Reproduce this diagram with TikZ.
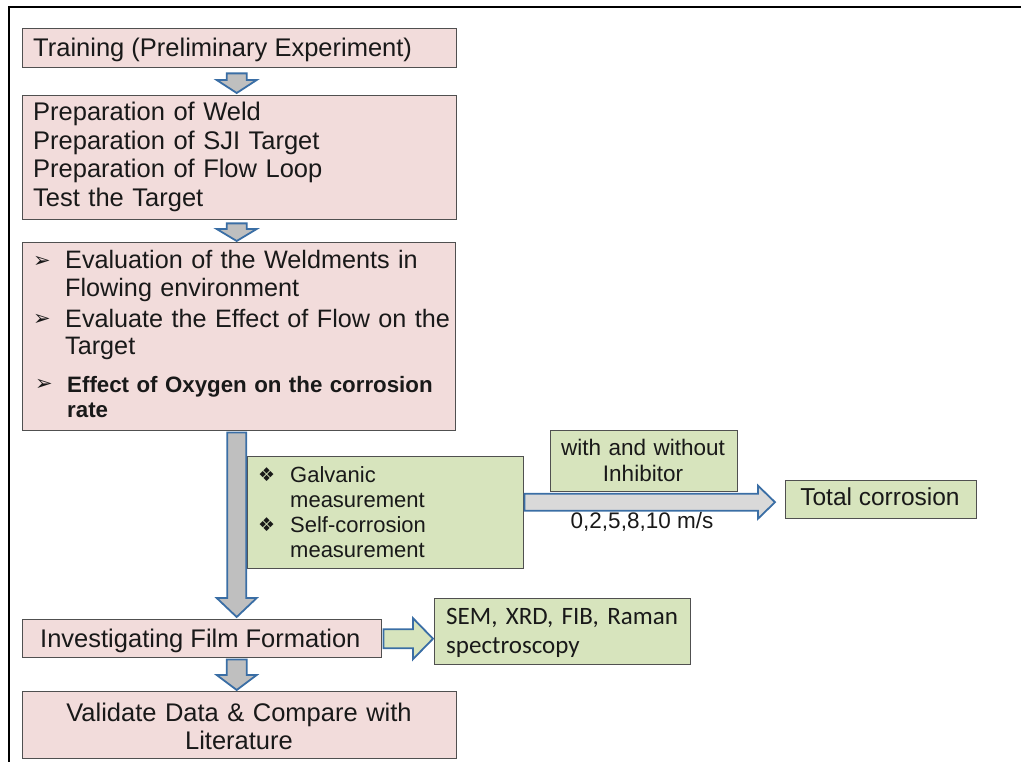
\documentclass[tikz,border=0pt]{standalone}
\usepackage{fontspec}
\setmainfont{Liberation Sans}
\newfontfamily\calfont{Carlito}
\newfontfamily\dingfont{DejaVu Sans}
\usetikzlibrary{calc}
\definecolor{boxpink}{HTML}{F2DCDB}
\definecolor{boxgreen}{HTML}{D7E4BD}
\definecolor{arrowblue}{HTML}{3A6EA5}
\definecolor{arrowgray}{HTML}{BFBFBF}
\definecolor{arrowlight}{HTML}{D9D9D9}
\definecolor{boxline}{HTML}{505050}
\tikzset{
    stagebox/.style={draw=boxline, line width=1.4pt, fill=boxpink, rectangle, inner sep=0pt, anchor=north west},
    notebox/.style={stagebox, fill=boxgreen},
    txt/.style={inner sep=0pt, text=black!90, font=\fontsize{25.5}{28.6}\selectfont},
    smalltxt/.style={inner sep=0pt, text=black!90, font=\fontsize{22}{25}\selectfont},
    bullet/.style={inner sep=0pt, text=black!90, anchor=base west},
    fatarrow/.style={draw=arrowblue, line width=1.8pt, fill=arrowgray, line join=miter},
}
% block arrows: [style]{from}{tip}{shaft half}{head half}{head length}
\newcommand{\downfat}[6][]{%
  \draw[fatarrow,#1] let \p1=(#2), \p2=(#3) in
    (\x1-#4pt,\y1) -- (\x1+#4pt,\y1) -- (\x1+#4pt,\y2+#6pt) -- (\x1+#5pt,\y2+#6pt)
    -- (\x1,\y2) -- (\x1-#5pt,\y2+#6pt) -- (\x1-#4pt,\y2+#6pt) -- cycle;}
\newcommand{\rightfat}[6][]{%
  \draw[fatarrow,#1] let \p1=(#2), \p2=(#3) in
    (\x1,\y1+#4pt) -- (\x2-#6pt,\y1+#4pt) -- (\x2-#6pt,\y1+#5pt) -- (\x2,\y1)
    -- (\x2-#6pt,\y1-#5pt) -- (\x2-#6pt,\y1-#4pt) -- (\x1,\y1-#4pt) -- cycle;}

\begin{document}
\begin{tikzpicture}[x=1pt, y=-1pt]
\useasboundingbox (0,0) rectangle (1021,762);
\draw[line width=2.5pt] (9,762) -- (9,7) -- (1021,7);

\node[stagebox, minimum width=434, minimum height=39] (train) at (22,28) {};
\node[txt, anchor=base west] (traintxt) at (33,57) {Training (Preliminary Experiment)};

\node[stagebox, minimum width=434, minimum height=124] (prep) at (22,95) {};
\node[txt, anchor=base west, text width=415, align=left] (preptxt) at (33,120.5)
  {Preparation of Weld\\Preparation of SJI Target\\Preparation of Flow Loop\\Test the Target};

\node[stagebox, minimum width=433, minimum height=188] (eval) at (22,242) {};
\node[bullet, font=\dingfont\fontsize{21}{24}\selectfont] (bulA) at (33,268) {➢};
\node[bullet, font=\dingfont\fontsize{21}{24}\selectfont] (bulB) at (33,326) {➢};
\node[bullet, font=\dingfont\fontsize{21}{24}\selectfont] (bulC) at (35,390) {➢};
\node[txt, anchor=base west, text width=430, align=left, font=\fontsize{25.2}{28}\selectfont] (evalA) at (65,269)
  {Evaluation of the Weldments in\\Flowing environment};
\node[txt, anchor=base west, text width=430, align=left, font=\fontsize{25.2}{28}\selectfont] (evalB) at (65,327)
  {Evaluate the Effect of Flow on the\\Target};
\node[txt, anchor=base west, text width=430, align=left, font=\bfseries\fontsize{22.3}{25}\selectfont] (evalC) at (67,392)
  {Effect of Oxygen on the corrosion\\rate};

\node[notebox, minimum width=276, minimum height=112] (galv) at (247,456) {};
\node[bullet, font=\dingfont\fontsize{19}{22}\selectfont] (bulD) at (258,481) {❖};
\node[bullet, font=\dingfont\fontsize{19}{22}\selectfont] (bulE) at (258,531) {❖};
\node[smalltxt, anchor=base west, text width=225, align=left] (galvA) at (290,482) {Galvanic\\measurement};
\node[smalltxt, anchor=base west, text width=225, align=left] (galvB) at (290,532) {Self-corrosion\\measurement};

\node[notebox, minimum width=187, minimum height=61] (inhib) at (550,430) {};
\node[smalltxt, anchor=base, text width=180, align=center, font=\fontsize{22.5}{26}\selectfont] (inhibtxt) at (643,455)
  {with and without\\Inhibitor};

\node[notebox, minimum width=191, minimum height=38] (total) at (785,480) {};
\node[txt, anchor=base, font=\fontsize{24.5}{28}\selectfont] (totaltxt) at (880,505) {Total corrosion};
\node[smalltxt, anchor=base, font=\fontsize{22.5}{26}\selectfont] (speed) at (642,528) {0,2,5,8,10 m/s};

\node[stagebox, minimum width=359, minimum height=38] (inv) at (22,619) {};
\node[txt, anchor=base west] (invtxt) at (40,647) {Investigating Film Formation};

\node[notebox, minimum width=256, minimum height=66] (sem) at (434,598) {};
\node[txt, anchor=base west, text width=240, align=left, font=\calfont\fontsize{25}{29}\selectfont] (semtxt) at (446,624)
  {SEM, XRD, FIB, Raman\\spectroscopy};

\node[stagebox, minimum width=434, minimum height=67] (valid) at (22,691) {};
\node[txt, anchor=base, text width=425, align=center] (validtxt) at (239,721)
  {Validate Data \& Compare with\\Literature};

\downfat{$(train.south)+(-3,5)$}{$(prep.north)+(-3,-2)$}{10}{20}{13}
\downfat{$(prep.south)+(-3,3)$}{$(eval.north)+(-3,-1)$}{10}{20}{12}
\downfat{$(eval.south)+(-2.5,1)$}{$(inv.north)+(0,-2)$}{9.5}{20}{19}
\downfat{$(valid.north |- inv.south)+(-3,1)$}{$(valid.north)+(-3,-1)$}{10}{20}{15}
\rightfat[fill=arrowlight]{$(galv.east |- total.west)+(0,2.5)$}{$(total.west)+(-10,0)$}{8.5}{16.5}{17}
\rightfat[fill=boxgreen]{$(inv.east)+(1,0)$}{$(sem.west |- inv.east)+(-1,0)$}{9.5}{20.5}{20}
\end{tikzpicture}
\end{document}
